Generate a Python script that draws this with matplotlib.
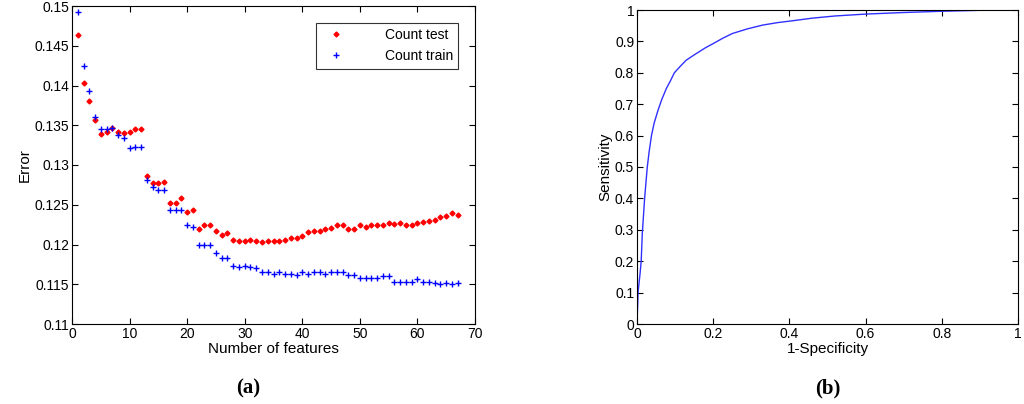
import numpy as np
import matplotlib.pyplot as plt

plt.rcParams['font.family'] = 'Liberation Sans'

features = np.arange(1, 68)
count_test = [0.1464, 0.1403, 0.1381, 0.1356, 0.1339, 0.1342, 0.1347, 0.1342, 0.1340, 0.1342,
              0.1345, 0.1345, 0.1286, 0.1277, 0.1277, 0.1279, 0.1252, 0.1252, 0.1259, 0.1241,
              0.1243, 0.1220, 0.1225, 0.1224, 0.1217, 0.1212, 0.1214, 0.1206, 0.1205, 0.1205,
              0.1206, 0.1205, 0.1203, 0.1205, 0.1205, 0.1205, 0.1206, 0.1208, 0.1208, 0.1211,
              0.1216, 0.1217, 0.1217, 0.1220, 0.1221, 0.1225, 0.1224, 0.1220, 0.1220, 0.1225,
              0.1222, 0.1224, 0.1225, 0.1225, 0.1227, 0.1226, 0.1227, 0.1224, 0.1225, 0.1227,
              0.1228, 0.1230, 0.1231, 0.1235, 0.1236, 0.1239, 0.1237]
count_train = [0.1493, 0.1425, 0.1393, 0.1360, 0.1345, 0.1345, 0.1347, 0.1338, 0.1334, 0.1321,
               0.1323, 0.1323, 0.1281, 0.1272, 0.1269, 0.1269, 0.1243, 0.1243, 0.1244, 0.1224,
               0.1222, 0.1199, 0.1200, 0.1200, 0.1189, 0.1183, 0.1183, 0.1173, 0.1172, 0.1173,
               0.1172, 0.1171, 0.1166, 0.1165, 0.1163, 0.1165, 0.1163, 0.1163, 0.1162, 0.1165,
               0.1163, 0.1165, 0.1166, 0.1163, 0.1165, 0.1166, 0.1165, 0.1162, 0.1162, 0.1158,
               0.1158, 0.1158, 0.1158, 0.1160, 0.1160, 0.1153, 0.1153, 0.1153, 0.1153, 0.1156,
               0.1153, 0.1153, 0.1152, 0.1150, 0.1151, 0.1150, 0.1151]

roc_fpr = [0, 0.003, 0.008, 0.011, 0.014, 0.02, 0.027, 0.032, 0.038, 0.045, 0.055, 0.065,
           0.077, 0.088, 0.098, 0.113, 0.129, 0.145, 0.163, 0.18, 0.2, 0.225, 0.25, 0.29,
           0.33, 0.37, 0.41, 0.46, 0.52, 0.6, 0.7, 0.8, 0.9, 1.0]
roc_tpr = [0, 0.104, 0.16, 0.2, 0.29, 0.40, 0.5, 0.55, 0.6, 0.64, 0.68, 0.715,
           0.75, 0.775, 0.8, 0.82, 0.84, 0.853, 0.867, 0.88, 0.893, 0.91, 0.925, 0.94,
           0.952, 0.96, 0.966, 0.974, 0.981, 0.987, 0.992, 0.996, 0.999, 1.0]

fig = plt.figure(figsize=(10.24, 4.04), dpi=100)
ax1 = fig.add_axes([72/1024, 1-324/404, 403/1024, 318/404])
ax2 = fig.add_axes([637/1024, 1-324/404, 381/1024, 314/404])

ax1.plot(features, count_test, 'D', color='red', markersize=2.5, label='Count test')
ax1.plot(features, count_train, '+', color='blue', markersize=5, mew=1, label='Count train')
ax1.set_xlim(0, 70)
ax1.set_ylim(0.11, 0.15)
ax1.set_xticks(range(0, 71, 10))
ax1.set_yticks(np.arange(0.11, 0.1501, 0.005))
ax1.set_yticklabels(['0.11', '0.115', '0.12', '0.125', '0.13', '0.135', '0.14', '0.145', '0.15'])
ax1.set_xlabel('Number of features', fontsize=11, labelpad=1)
ax1.set_ylabel('Error', fontsize=11, labelpad=2)
leg = ax1.legend(loc='upper right', fontsize=10, fancybox=False, edgecolor='black',
                 handletextpad=2.5, borderaxespad=1.2)
leg.get_frame().set_linewidth(0.8)

ax2.plot(roc_fpr, roc_tpr, color='#3030ff', linewidth=1)
ax2.set_xlim(0, 1)
ax2.set_ylim(0, 1)
ax2.set_xticks([0, 0.2, 0.4, 0.6, 0.8, 1])
ax2.set_xticklabels(['0', '0.2', '0.4', '0.6', '0.8', '1'])
ax2.set_yticks(np.arange(0, 1.01, 0.1))
ax2.set_yticklabels(['0', '0.1', '0.2', '0.3', '0.4', '0.5', '0.6', '0.7', '0.8', '0.9', '1'])
ax2.set_xlabel('1-Specificity', fontsize=11, labelpad=1)
ax2.set_ylabel('Sensitivity', fontsize=11, labelpad=2)

for ax in (ax1, ax2):
    ax.tick_params(direction='in', top=True, right=True, labelsize=10, length=4, pad=2)

fig.text(248/1024, 1-388/404, '(a)', ha='center', va='center', fontsize=15,
         fontweight='bold', family='Liberation Serif')
fig.text(828/1024, 1-388/404, '(b)', ha='center', va='center', fontsize=15,
         fontweight='bold', family='Liberation Serif')

fig.savefig('out.png', dpi=100)
